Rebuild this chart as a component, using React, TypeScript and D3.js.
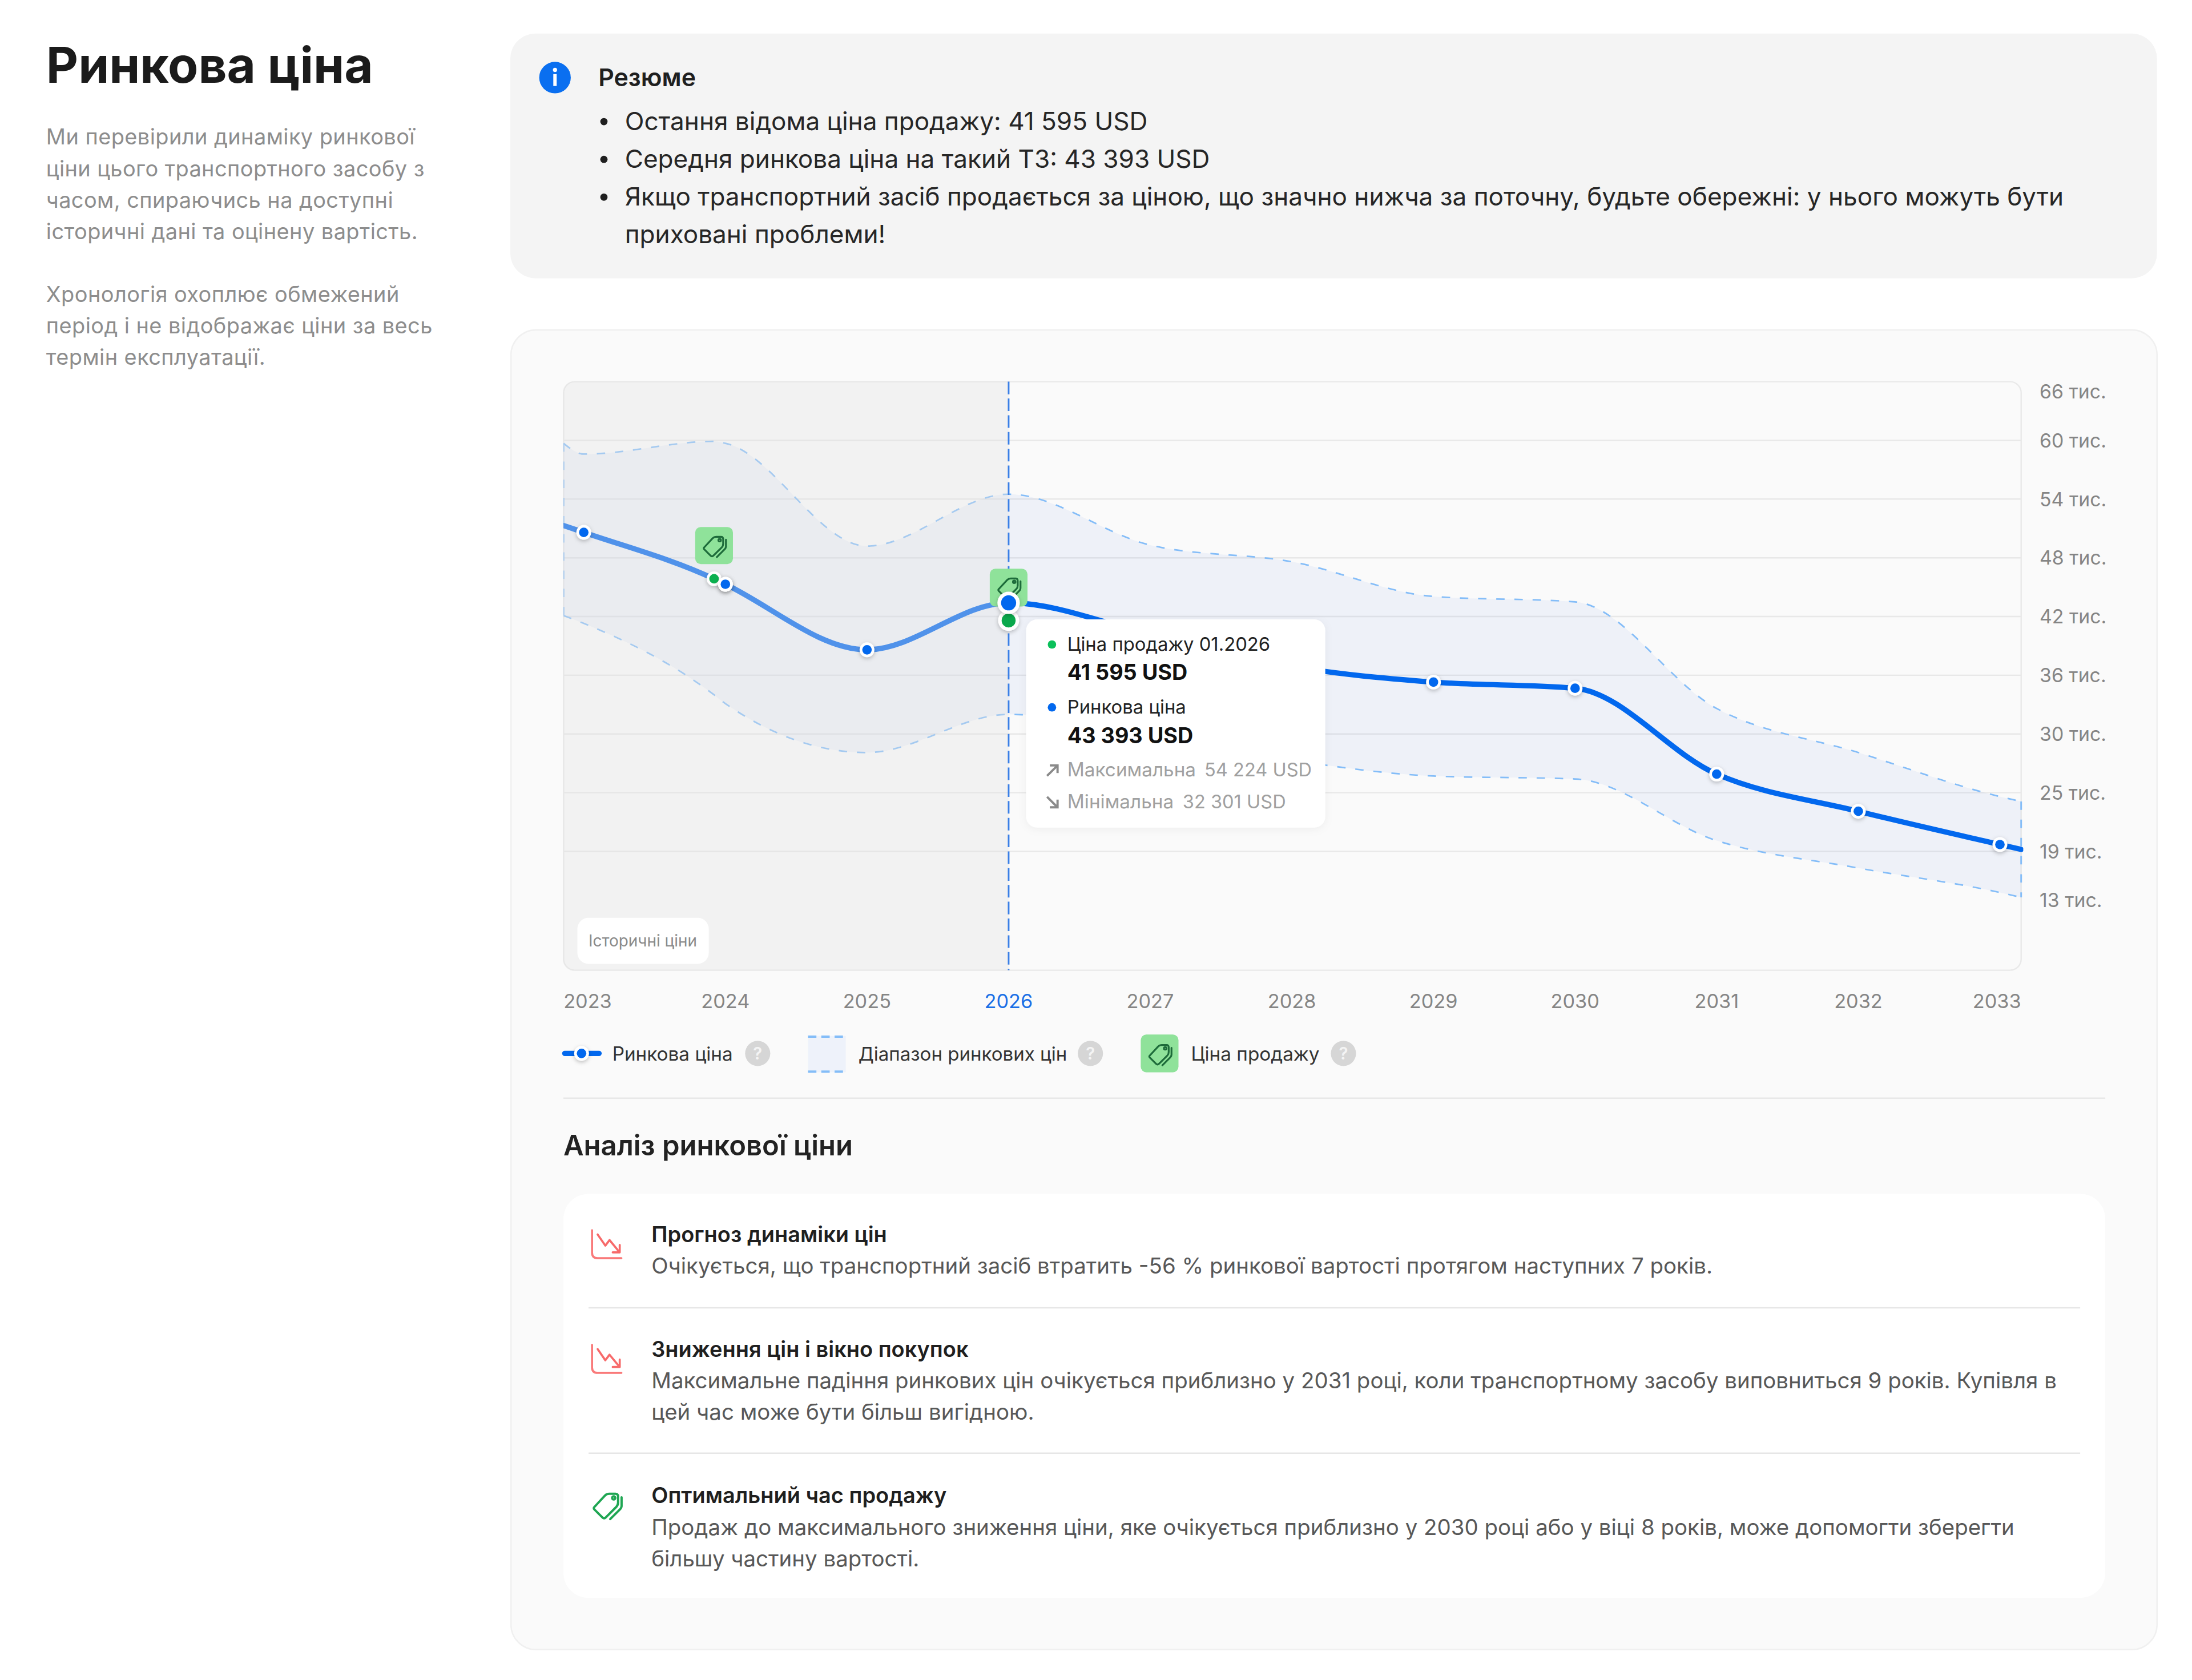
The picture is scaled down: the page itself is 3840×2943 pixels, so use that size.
import React from "react";
import * as d3 from "d3";

const years = [2022.857, 2023, 2023.92, 2024, 2025, 2026, 2027, 2028, 2029, 2030, 2031, 2032, 2033, 2033.15];
const marketPrice = [51.3, 50.6, 45.85, 45.3, 38.6, 43.4, 40.2, 36.9, 35.3, 34.67, 25.9, 22.1, 18.7, 18.2];
const upperPrice = [59.7, 58.6, 59.9, 59.7, 49.2, 54.5, 49.3, 47.6, 44.05, 43.5, 32.6, 28.1, 23.6, 23.1];
const lowerPrice = [42.1, 41.3, 34.0, 33.1, 28.1, 32.0, 29.8, 27.3, 25.7, 25.4, 19.1, 16.3, 13.8, 13.3];
const pointYears = [2023, 2024, 2025, 2026, 2027, 2028, 2029, 2030, 2031, 2032, 2033];
const saleYears = [2023.92, 2026];
const salePrices = [45.86, 41.6];
const tickYears = [2023, 2024, 2025, 2026, 2027, 2028, 2029, 2030, 2031, 2032, 2033];
const gridValues = [60, 54, 48, 42, 36, 30, 24, 18];
const yLabelValues = [65, 60, 54, 48, 42, 36, 30, 24, 18, 13];
const yLabels = ["66 тис.", "60 тис.", "54 тис.", "48 тис.", "42 тис.", "36 тис.", "30 тис.", "25 тис.", "19 тис.", "13 тис."];
const leftLines = [
  "Ми перевірили динаміку ринкової",
  "ціни цього транспортного засобу з",
  "часом, спираючись на доступні",
  "історичні дані та оцінену вартість.",
];
const leftLines2 = [
  "Хронологія охоплює обмежений",
  "період і не відображає ціни за весь",
  "термін експлуатації.",
];

const FONT = "Inter, 'Noto Sans', sans-serif";
const BLUE = "#0268ee";
const DASH = "#84bdf8";
const TAG = "#8fe29a";

const x = d3.scaleLinear().domain([2026, 2033]).range([721.5, 1430.6]);
const y = d3.scaleLinear().domain([60, 18]).range([315, 609]);
const idx = years.map((_, i) => i);
const last = idx[idx.length - 1];
const curve = d3.curveMonotoneX;
const line = d3.line<number>().x((i) => x(years[i])).y((i) => y(marketPrice[i])).curve(curve);
const upperLine = d3.line<number>().x((i) => x(years[i])).y((i) => y(upperPrice[i])).curve(curve);
const lowerLine = d3.line<number>().x((i) => x(years[i])).y((i) => y(lowerPrice[i])).curve(curve);
const band = d3
  .area<number>()
  .x((i) => x(years[i]))
  .y0((i) => y(lowerPrice[i]))
  .y1((i) => y(upperPrice[i]))
  .curve(curve);
const marketAt = (yr: number) => marketPrice[years.indexOf(yr)];

const TagIcon = ({ cx, cy, color, scale = 1 }: { cx: number; cy: number; color: string; scale?: number }) => (
  <g transform={`translate(${cx},${cy}) scale(${scale})`} fill="none" stroke={color} strokeWidth={1.3} strokeLinejoin="round" strokeLinecap="round">
    <path d="M-7 1.5 L-1 -5 Q0 -6 1.5 -6 L5 -6 Q6.5 -6 6.5 -4.5 L6.5 -1 Q6.5 0.5 5.5 1.5 L-0.5 7.5 Q-1.5 8.5 -2.5 7.5 L-7 3 Q-7.8 2.2 -7 1.5 Z" />
    <path d="M8.5 -4 L8.5 1 Q8.5 2 7.5 3 L2 8.5" />
    <circle cx={4} cy={-3.6} r={0.9} />
  </g>
);

const TrendIcon = ({ cy }: { cy: number }) => (
  <g transform={`translate(423.5,${cy})`} fill="none" stroke="#f97a7a" strokeWidth={1.5} strokeLinecap="round" strokeLinejoin="round">
    <path d="M0 0 L0 16 Q0 20 4 20 L21 20" />
    <path d="M4 3 L9.5 11 L12.5 7 L19.5 15.5" stroke="#f76a6a" />
    <path d="M19.8 10.5 L19.8 15.8 L14.8 15.8" stroke="#f76a6a" />
  </g>
);

const Help = ({ cx }: { cx: number }) => (
  <g>
    <circle cx={cx} cy={753.5} r={9} fill="#d6d6d6" />
    <text x={cx} y={758} textAnchor="middle" fontSize={12} fontWeight={600} fill="#f4f4f4">?</text>
  </g>
);

const Dot = ({ cx, cy, r = 3.4, ring = 5.3, fill = BLUE }: { cx: number; cy: number; r?: number; ring?: number; fill?: string }) => (
  <g>
    <circle cx={cx} cy={cy} r={ring} fill="#fff" filter="url(#dotShadow)" />
    <circle cx={cx} cy={cy} r={r} fill={fill} />
  </g>
);

export default function App() {
  const plotL = x(years[0]);
  const plotR = x(years[last]);
  const plotT = 273;
  const plotB = 694;
  const cut = x(2026);
  return (
    <svg
      width={3840}
      height={2943}
      viewBox="0 0 1568 1201.7"
      style={{ position: "absolute", left: 0, top: 0, display: "block", background: "#fff" }}
      fontFamily={FONT}
    >
      <defs>
        <clipPath id="plotClip">
          <rect x={plotL} y={plotT} width={plotR - plotL + 1.5} height={plotB - plotT} rx={8} />
        </clipPath>
        <filter id="dotShadow" x="-100%" y="-100%" width="300%" height="300%">
          <feDropShadow dx={0} dy={1} stdDeviation={1.6} floodColor="#000" floodOpacity={0.25} />
        </filter>
        <filter id="tipShadow" x="-20%" y="-20%" width="140%" height="140%">
          <feDropShadow dx={0} dy={1} stdDeviation={3} floodColor="#000" floodOpacity={0.05} />
        </filter>
      </defs>

      {/* left column */}
      <text x={33} y={59} fontSize={35.5} fontWeight={700} fill="#1b1b1b">Ринкова ціна</text>
      {leftLines.map((t, i) => (
        <text key={t} x={33} y={103.5 + i * 22.5} fontSize={15.5} letterSpacing={0.17} fill="#8d8d8d">{t}</text>
      ))}
      {leftLines2.map((t, i) => (
        <text key={t} x={33} y={216 + i * 22.5} fontSize={15.5} letterSpacing={0.17} fill="#8d8d8d">{t}</text>
      ))}

      {/* summary card */}
      <rect x={365} y={24} width={1178} height={175} rx={18} fill="#f4f4f4" />
      <circle cx={397} cy={55.5} r={11.3} fill="#0a6ff0" />
      <circle cx={397} cy={50} r={1.5} fill="#fff" />
      <rect x={395.8} y={53} width={2.4} height={8.5} fill="#fff" />
      <text x={428} y={61.5} fontSize={17.5} fontWeight={600} fill="#1f1f1f">Резюме</text>
      {[87, 114, 141].map((cy) => (
        <circle key={cy} cx={432} cy={cy} r={2.6} fill="#1f1f1f" />
      ))}
      <g fontSize={18} fill="#262626">
        <text x={447} y={93}>Остання відома ціна продажу: 41 595 USD</text>
        <text x={447} y={120}>Середня ринкова ціна на такий ТЗ: 43 393 USD</text>
        <text x={447} y={147}>Якщо транспортний засіб продається за ціною, що значно нижча за поточну, будьте обережні: у нього можуть бути</text>
        <text x={447} y={174}>приховані проблеми!</text>
      </g>

      {/* main card */}
      <rect x={365.5} y={236} width={1177.5} height={944} rx={18} fill="#fafafa" stroke="#f0f0f0" />
      <rect x={plotL} y={plotT} width={plotR - plotL} height={plotB - plotT} rx={8} fill="#fafafa" stroke="#e9e9e9" />

      <g clipPath="url(#plotClip)">
        {gridValues.map((v) => (
          <line key={v} x1={plotL} x2={plotR} y1={y(v)} y2={y(v)} stroke="#e8e8e8" strokeWidth={1} />
        ))}
        <path d={band(idx) ?? ""} fill="#0a58e0" fillOpacity={0.05} />
        <path d={upperLine(idx) ?? ""} fill="none" stroke={DASH} strokeWidth={1.1} strokeDasharray="6 7" />
        <path d={lowerLine(idx) ?? ""} fill="none" stroke={DASH} strokeWidth={1.1} strokeDasharray="6 7" />
        <line x1={plotL} x2={plotL} y1={y(upperPrice[0])} y2={y(lowerPrice[0])} stroke={DASH} strokeWidth={1.2} strokeDasharray="6 7" />
        <line x1={plotR} x2={plotR} y1={y(upperPrice[last])} y2={y(lowerPrice[last])} stroke={DASH} strokeWidth={1.2} strokeDasharray="6 7" />
        <path d={line(idx) ?? ""} fill="none" stroke={BLUE} strokeWidth={3.8} strokeLinecap="round" />
        <rect x={plotL} y={plotT} width={cut - plotL} height={plotB - plotT} fill="#e1e1e1" fillOpacity={0.35} />
      </g>
      <line x1={cut} x2={cut} y1={plotT} y2={plotB} stroke="#3a7fe6" strokeWidth={1.2} strokeDasharray="9 3" />

      {/* point markers */}
      {pointYears.filter((p) => p !== 2026).map((p) => (
        <Dot key={p} cx={x(p)} cy={y(marketAt(p))} />
      ))}

      {/* sale markers */}
      <rect x={x(saleYears[0]) - 13.5} y={y(salePrices[0]) - 37} width={27} height={26.5} rx={4} fill={TAG} />
      <TagIcon cx={x(saleYears[0])} cy={y(salePrices[0]) - 24} color="#1d6b3a" />
      <Dot cx={x(saleYears[0])} cy={y(salePrices[0])} fill="#0bb04f" />
      <Dot cx={x(pointYears[1])} cy={y(marketAt(2024))} />
      <rect x={cut - 13.5} y={y(salePrices[1]) - 37} width={27} height={27} rx={4} fill={TAG} />
      <TagIcon cx={cut} cy={y(salePrices[1]) - 24} color="#1d6b3a" />
      <Dot cx={cut} cy={y(salePrices[1])} r={5} ring={7.5} fill="#0aa84c" />
      <Dot cx={cut} cy={y(marketAt(2026))} r={5.4} ring={8} />

      {/* historic label */}
      <rect x={413} y={656.5} width={94} height={33} rx={8} fill="#fff" />
      <text x={421} y={677} fontSize={11.4} fill="#8a8a8a">Історичні ціни</text>

      {/* y labels */}
      {yLabelValues.map((v, i) => (
        <text key={v} x={1459} y={y(v)} dy={5} fontSize={13.8} fill="#858585">{yLabels[i]}</text>
      ))}

      {/* x labels */}
      {tickYears.map((t, i) => (
        <text
          key={t}
          x={i === 0 ? plotL : i === tickYears.length - 1 ? plotR : x(t)}
          y={721}
          fontSize={14}
          textAnchor={i === 0 ? "start" : i === tickYears.length - 1 ? "end" : "middle"}
          fill={t === 2026 ? "#1a6fe6" : "#858585"}
        >
          {t}
        </text>
      ))}

      {/* tooltip */}
      <rect x={734} y={443} width={214} height={149} rx={8} fill="#fff" filter="url(#tipShadow)" />
      <circle cx={752.5} cy={461} r={3} fill="#0bc05a" />
      <text x={763.5} y={465.5} fontSize={13.4} fill="#222">Ціна продажу 01.2026</text>
      <text x={763.5} y={486.5} fontSize={15.4} fontWeight={700} fill="#111">41 595 USD</text>
      <circle cx={752.5} cy={506} r={3} fill={BLUE} />
      <text x={763.5} y={510.5} fontSize={13.4} fill="#222">Ринкова ціна</text>
      <text x={763.5} y={531.5} fontSize={15.4} fontWeight={700} fill="#111">43 393 USD</text>
      <g stroke="#8a8a8a" strokeWidth={1.6} fill="none">
        <path d="M749 555 L756.5 547.5 M751 547.5 L756.5 547.5 L756.5 553" />
        <path d="M749 570 L756.5 577.5 M751 577.5 L756.5 577.5 L756.5 572" />
      </g>
      <g fontSize={13.6} fill="#a0a0a0">
        <text x={763.5} y={555.5}>Максимальна</text>
        <text x={861.6} y={555.5} fontSize={13.3}>54 224 USD</text>
        <text x={763.5} y={578}>Мінімальна</text>
        <text x={846} y={578} fontSize={13.3}>32 301 USD</text>
      </g>

      {/* legend */}
      <line x1={404} x2={428.5} y1={753.5} y2={753.5} stroke={BLUE} strokeWidth={3.8} strokeLinecap="round" />
      <Dot cx={416} cy={753.5} />
      <text x={438} y={758.5} fontSize={13.6} fill="#333">Ринкова ціна</text>
      <Help cx={542} />
      <rect x={578} y={741} width={27} height={26} fill="#eef2fa" />
      <line x1={578} x2={605} y1={741.5} y2={741.5} stroke={DASH} strokeWidth={1.6} strokeDasharray="6 3.5" />
      <line x1={578} x2={605} y1={766.5} y2={766.5} stroke={DASH} strokeWidth={1.6} strokeDasharray="6 3.5" />
      <text x={614} y={758.5} fontSize={13.5} fill="#333">Діапазон ринкових цін</text>
      <Help cx={780} />
      <rect x={816} y={740} width={27} height={27} rx={4} fill={TAG} />
      <TagIcon cx={829.5} cy={753.5} color="#1d6b3a" />
      <text x={852} y={758.5} fontSize={13.6} fill="#333">Ціна продажу</text>
      <Help cx={961} />

      <line x1={403} x2={1506} y1={785.5} y2={785.5} stroke="#e8e8e8" />

      {/* analysis */}
      <text x={403} y={826.5} fontSize={20} fontWeight={600} fill="#222">Аналіз ринкової ціни</text>
      <rect x={403} y={854} width={1103} height={289} rx={18} fill="#fff" />
      <line x1={421} x2={1488} y1={935.5} y2={935.5} stroke="#e6e6e6" />
      <line x1={421} x2={1488} y1={1039.5} y2={1039.5} stroke="#e6e6e6" />
      <TrendIcon cy={880} />
      <TrendIcon cy={962} />
      <TagIcon cx={434} cy={1076} color="#1fa653" scale={1.25} />
      <g fontSize={15.5} fontWeight={600} fill="#1f1f1f">
        <text x={466} y={888.5}>Прогноз динаміки цін</text>
        <text x={466} y={970.5}>Зниження цін і вікно покупок</text>
        <text x={466} y={1075}>Оптимальний час продажу</text>
      </g>
      <g fontSize={15.7} fill="#585858">
        <text x={466} y={911}>Очікується, що транспортний засіб втратить -56 % ринкової вартості протягом наступних 7 років.</text>
        <text x={466} y={993}>Максимальне падіння ринкових цін очікується приблизно у 2031 році, коли транспортному засобу виповниться 9 років. Купівля в</text>
        <text x={466} y={1015.5}>цей час може бути більш вигідною.</text>
        <text x={466} y={1098}>Продаж до максимального зниження ціни, яке очікується приблизно у 2030 році або у віці 8 років, може допомогти зберегти</text>
        <text x={466} y={1120.5}>більшу частину вартості.</text>
      </g>
    </svg>
  );
}
